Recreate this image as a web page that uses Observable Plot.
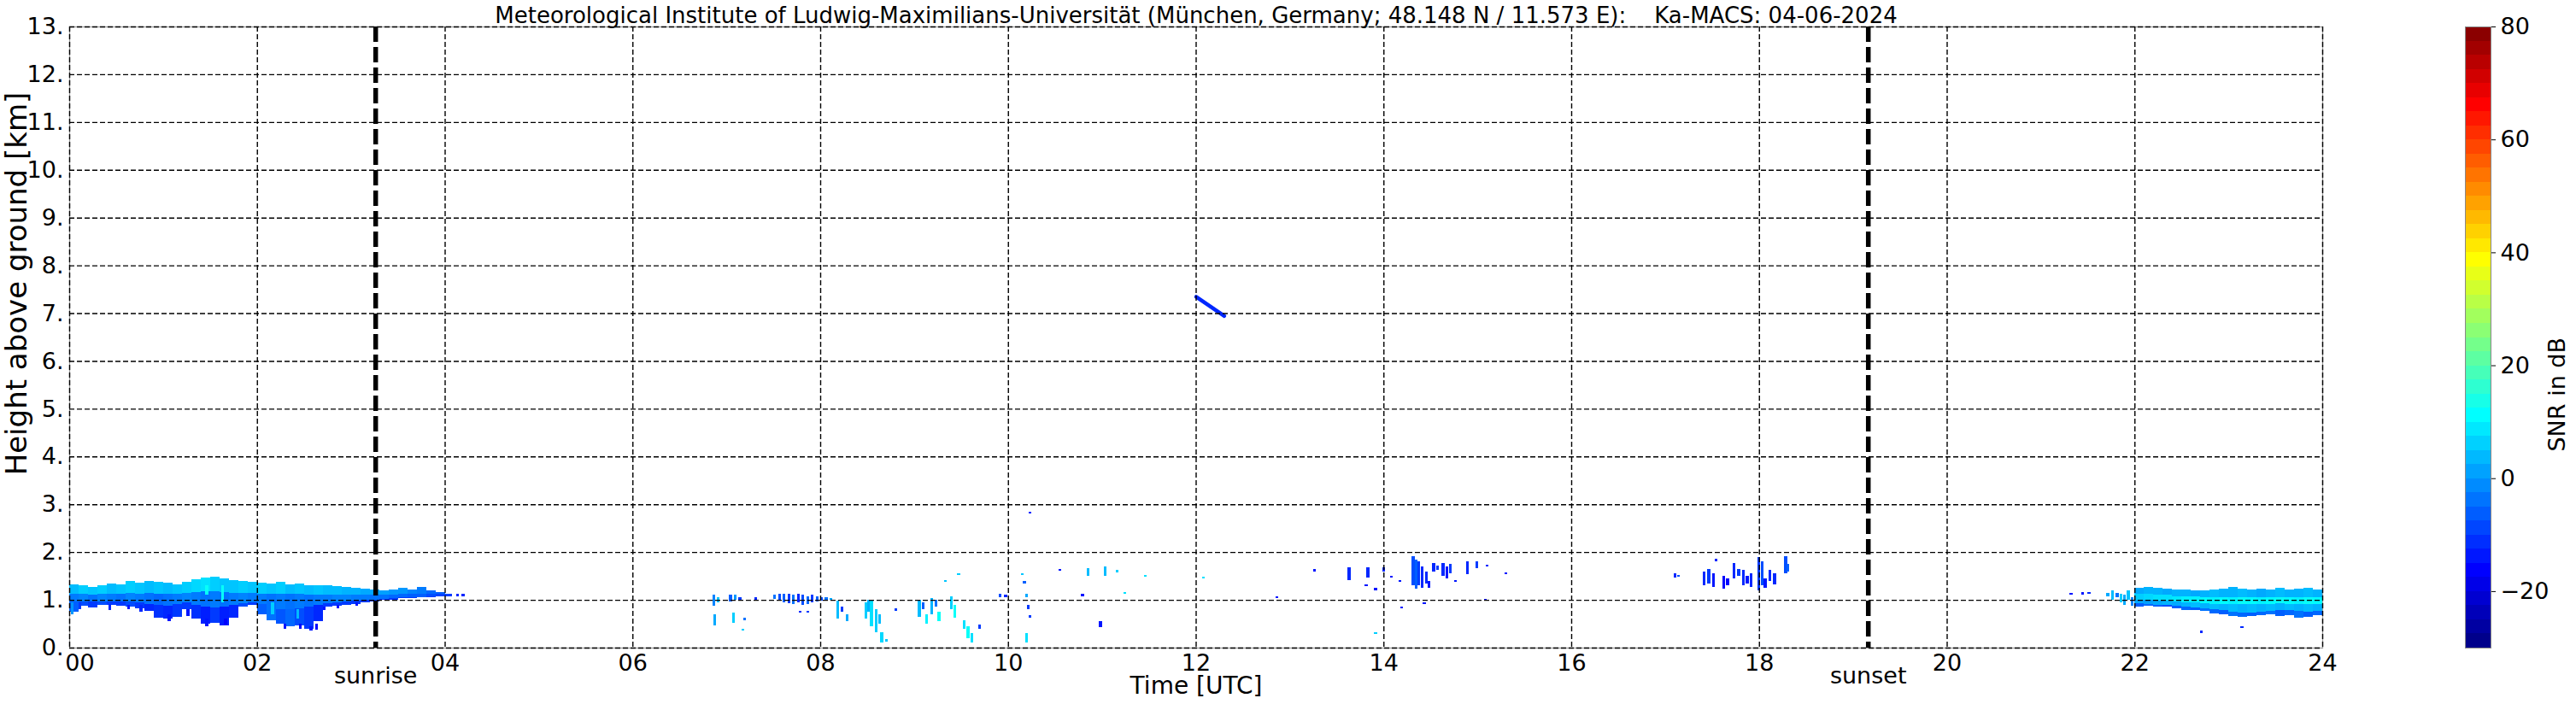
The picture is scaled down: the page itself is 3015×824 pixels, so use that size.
<!DOCTYPE html>
<html><head><meta charset="utf-8">
<script src="https://cdn.jsdelivr.net/npm/d3@7"></script>
<script src="https://cdn.jsdelivr.net/npm/@observablehq/plot@0.6"></script>
<style>
html,body{margin:0;padding:0;background:#fff;}
#wrap{position:relative;width:3015px;height:824px;overflow:hidden;background:#fff;}
#wrap svg{position:absolute;top:0;}
</style></head><body><div id="wrap"></div>
<script>
// ---------------- data ----------------
const TITLE = "Meteorological Institute of Ludwig-Maximilians-Universität (München, Germany; 48.148 N / 11.573 E):    Ka-MACS: 04-06-2024";
const X_LABEL = "Time [UTC]";
const Y_LABEL = "Height above ground [km]";
const CB_LABEL = "SNR in dB";
const X_TICKS = [0,2,4,6,8,10,12,14,16,18,20,22,24];
const X_TICK_LABELS = ["00","02","04","06","08","10","12","14","16","18","20","22","24"];
const Y_TICKS = [0,1,2,3,4,5,6,7,8,9,10,11,12,13];
const SUN_TIMES = [3.26, 19.16];
const SUN_LABELS = ["sunrise", "sunset"];
const SNR_DOMAIN = [-30, 80];
const SNR_TICKS = [-20, 0, 20, 40, 60, 80];
const SNR_STEP = 2.5;

// Cloud layer 00:00-04:10 (columns of 0.1 h)
const cloudA_t      = [0.0,0.1,0.2,0.3,0.4,0.5,0.6,0.7,0.8,0.9,1.0,1.1,1.2,1.3,1.4,1.5,1.6,1.7,1.8,1.9,2.0,2.1,2.2,2.3,2.4,2.5,2.6,2.7,2.8,2.9,3.0,3.1,3.2,3.3,3.4,3.5,3.6,3.7,3.8,3.9,4.0];
const cloudA_top    = [1.33,1.30,1.27,1.31,1.34,1.33,1.39,1.36,1.39,1.37,1.36,1.33,1.38,1.43,1.46,1.48,1.44,1.42,1.40,1.38,1.36,1.35,1.37,1.33,1.35,1.30,1.31,1.30,1.28,1.27,1.25,1.24,1.22,1.20,1.22,1.25,1.22,1.27,1.20,1.17,1.13];
const cloudA_mid    = [1.12,1.12,1.10,1.12,1.13,1.12,1.14,1.13,1.14,1.12,1.12,1.12,1.14,1.16,1.18,1.18,1.16,1.15,1.15,1.14,1.13,1.12,1.13,1.12,1.12,1.10,1.10,1.10,1.10,1.10,1.10,1.10,1.10,1.10,1.10,1.12,1.12,1.13,1.12,1.12,1.10];
const cloudA_base   = [0.97,0.97,0.96,0.97,0.97,0.96,0.97,0.94,0.92,0.90,0.88,0.92,0.94,0.90,0.86,0.84,0.86,0.90,0.93,0.95,0.92,0.84,0.80,0.80,0.82,0.85,0.90,0.93,0.95,0.96,0.98,1.00,1.01,1.02,1.03,1.05,1.05,1.06,1.07,1.08,1.08];
const cloudA_streak = [0.75,0.88,0.84,0.90,0.90,0.88,0.86,0.82,0.76,0.62,0.60,0.65,0.80,0.60,0.50,0.52,0.47,0.62,0.85,0.90,0.70,0.58,0.50,0.44,0.47,0.40,0.55,0.85,0.88,0.90,0.92,0.95,0.97,1.00,1.01,1.03,1.04,1.05,1.06,1.07,1.08];
const cloudA_snrTop    = [4,6,5,6,4,5,6,5,4,5,4,5,6,7,8,6,5,5,6,5,6,5,6,4,5,4,5,4,4,3,3,2,2,1,0,0,-2,-3,-5,-6,-8];
const cloudA_snrMid    = [-3,-2,-4,-2,-3,-4,-2,-3,-4,-5,-4,-3,-2,-3,-4,-3,-4,-3,-2,-3,-3,-4,-3,-4,-3,-4,-3,-3,-2,-2,-3,-3,-4,-4,-5,-5,-6,-6,-8,-9,-10];
const cloudA_snrStreak = [-6,-8,-10,-8,-10,-10,-8,-10,-12,-11,-12,-10,-10,-11,-13,-10,-13,-12,-8,-10,-6,-4,-7,-5,-8,-10,-12,-10,-10,-10,-10,-10,-10,-10,-10,-10,-10,-10,-10,-10,-10];

// Cloud layer 22:00-24:00 (columns of 0.1 h)
const cloudB_t       = [22.0,22.1,22.2,22.3,22.4,22.5,22.6,22.7,22.8,22.9,23.0,23.1,23.2,23.3,23.4,23.5,23.6,23.7,23.8,23.9];
const cloudB_top     = [1.25,1.27,1.26,1.24,1.22,1.21,1.20,1.19,1.21,1.23,1.27,1.23,1.22,1.24,1.21,1.26,1.22,1.23,1.25,1.22];
const cloudB_coreTop = [1.12,1.12,1.10,1.10,1.08,1.08,1.07,1.06,1.06,1.06,1.06,1.06,1.05,1.06,1.05,1.06,1.06,1.05,1.06,1.06];
const cloudB_coreBot = [1.00,1.00,0.98,0.98,0.96,0.95,0.94,0.93,0.92,0.92,0.92,0.91,0.91,0.92,0.92,0.93,0.92,0.92,0.91,0.92];
const cloudB_base    = [0.93,0.92,0.90,0.90,0.88,0.86,0.84,0.82,0.80,0.78,0.75,0.74,0.74,0.75,0.77,0.78,0.78,0.76,0.75,0.77];
const cloudB_bottom  = [0.86,0.88,0.86,0.85,0.82,0.78,0.78,0.76,0.72,0.70,0.66,0.64,0.66,0.68,0.70,0.66,0.68,0.62,0.64,0.68];
const cloudB_snrTop    = [2,3,3,2,3,3,2,3,4,3,3,4,3,2,3,4,3,3,4,3];
const cloudB_snrCore   = [6,7,8,8,9,10,10,11,10,11,10,12,11,10,11,12,11,10,12,11];
const cloudB_snrBase   = [2,1,2,3,2,3,4,3,4,3,4,3,4,3,4,3,4,3,4,3];
const cloudB_snrBottom = [-6,-5,-6,-8,-6,-5,-6,-4,-5,-6,-4,-5,-6,-5,-4,-6,-5,-4,-6,-5];

// Isolated echoes: [time h, bottom km, top km, SNR dB]
const strandsA = [[0.02,0.70,0.95,0],[0.10,0.80,0.95,-10],[0.42,0.78,0.92,-12],[0.62,0.80,0.90,-14],[0.75,0.75,0.90,-12],[1.05,0.55,0.70,-14],[1.25,0.66,0.80,-14],[1.45,0.45,0.60,-14],[1.65,0.48,0.60,-16],[1.62,0.95,1.30,12],[2.28,0.40,0.50,-14],[2.45,0.40,0.50,-16],[2.56,0.36,0.45,-14],[2.62,0.38,0.50,-16],[2.70,0.78,0.85,-14],[2.85,0.82,0.90,-14],[3.05,0.88,0.95,-14],[4.05,1.08,1.12,-10],[4.12,1.08,1.12,-12],[4.18,1.08,1.12,-12],[1.45,1.10,1.30,12],[2.15,0.7,0.95,6],[2.42,0.6,0.8,4]];
const morningEchoes = [[6.85,0.87,1.10,-2],[6.90,0.95,1.05,5],[6.86,0.46,0.70,2],[7.03,0.97,1.10,-6],[7.08,1.00,1.10,0],[7.13,1.00,1.06,-10],[7.06,0.52,0.73,6],[7.16,0.36,0.40,6],[7.18,0.57,0.63,-4],[7.30,1.00,1.05,-12],
 [7.50,1.02,1.10,-4],[7.55,0.98,1.12,-8],[7.60,0.95,1.13,-6],[7.65,0.93,1.12,-10],[7.70,0.92,1.10,-4],[7.75,0.94,1.12,-12],[7.80,0.90,1.10,-8],[7.85,0.92,1.08,-5],[7.90,0.95,1.10,-10],[7.95,0.97,1.08,-6],[8.00,0.98,1.05,-8],[8.05,1.00,1.05,-4],[8.10,1.00,1.04,2],
 [7.77,0.73,0.77,-12],[7.85,0.73,0.77,-10],[8.17,0.60,0.98,4],[8.22,0.75,0.85,-10],[8.27,0.56,0.70,2],
 [8.47,0.60,0.95,6],[8.50,0.75,1.00,3],[8.53,0.44,0.98,8],[8.58,0.33,0.80,6],[8.62,0.50,0.70,4],[8.64,0.10,0.33,7],[8.69,0.13,0.17,5],[8.79,0.77,0.82,-10],
 [9.04,0.65,1.00,4],[9.08,0.80,0.95,-6],[9.12,0.50,0.70,10],[9.17,0.70,1.03,3],[9.22,0.85,1.00,-4],[9.25,0.55,0.75,12],
 [9.32,1.37,1.41,5],[9.38,0.80,1.08,6],[9.42,0.62,0.90,12],[9.46,1.52,1.56,6],[9.52,0.40,0.57,8],[9.56,0.20,0.45,12],[9.60,0.10,0.30,8],[9.68,0.40,0.49,-10],
 [9.90,1.05,1.12,-8],[9.96,1.06,1.10,-12],[10.14,1.52,1.56,5],[10.16,1.35,1.40,-6],[10.18,1.05,1.12,2],[10.20,0.80,0.90,-10],[10.22,0.62,0.68,-10],[10.18,0.10,0.30,8],[10.22,2.80,2.85,-12],
 [10.54,1.61,1.65,-14],[10.78,1.08,1.12,-14],[10.84,1.50,1.67,4],[10.97,0.43,0.55,-14],[11.02,1.50,1.70,4]];
const afternoonEchoes = [[11.15,1.58,1.62,6],[11.23,1.13,1.17,8],[11.45,1.48,1.52,8],[12.07,1.45,1.49,8],[12.85,1.04,1.08,-14],[13.25,1.60,1.64,-14],
 [13.62,1.42,1.68,-12],[13.82,1.47,1.68,-12],[13.80,1.29,1.33,-14],[13.90,1.20,1.26,-14],[13.90,0.29,0.33,6],[13.99,1.60,1.68,-12],[14.07,1.47,1.51,-14],[14.16,1.38,1.42,-14],[14.18,0.82,0.86,-14],[14.42,0.91,0.95,-14],
 [14.30,1.30,1.92,-8],[14.33,1.24,1.85,-6],[14.36,1.30,1.80,-10],[14.40,1.26,1.70,-12],[14.44,1.35,1.60,-12],[14.47,1.25,1.40,-14],
 [14.52,1.60,1.77,-12],[14.56,1.62,1.72,-10],[14.62,1.50,1.77,-12],[14.66,1.45,1.70,-14],[14.70,1.55,1.75,-10],[14.75,1.37,1.41,-14],[14.88,1.53,1.80,-12],[14.98,1.67,1.81,-10],[15.07,0.98,1.02,-14],[15.09,1.69,1.73,-12],[15.29,1.54,1.58,-14],
 [17.09,1.47,1.56,-12],[17.13,1.48,1.52,-8],[17.40,1.30,1.60,-12],[17.45,1.35,1.65,-10],[17.50,1.27,1.55,-14],[17.53,1.80,1.86,-12],[17.61,1.24,1.50,-16],[17.65,1.30,1.45,-16],[17.72,1.45,1.77,-12],[17.77,1.50,1.65,-10],[17.82,1.30,1.62,-12],[17.86,1.35,1.50,-14],[17.90,1.27,1.55,-12],[17.98,1.20,1.90,-10],[18.02,1.30,1.80,-8],[18.05,1.25,1.45,-14],[18.10,1.40,1.62,-12],[18.15,1.33,1.55,-12],[18.27,1.56,1.92,-8],[18.29,1.60,1.75,-6]];
const nightEchoes = [[21.31,1.10,1.14,-14],[21.43,1.11,1.16,-14],[21.50,1.13,1.17,-12],[21.70,1.08,1.14,2],[21.75,1.00,1.20,4],[21.80,1.05,1.15,-4],[21.84,0.95,1.12,6],[21.88,0.90,1.10,2],[21.92,1.00,1.20,5],[21.96,0.88,1.05,-2],[22.70,0.31,0.35,-12],[23.13,0.41,0.45,-12]];
// High echo trail near 12 UTC
const trail_t   = [12.00, 12.30];
const trail_h   = [7.35, 6.95];
const trail_snr = [-12, -12];

// ---------------- build ----------------
const jet = (t) => {
  const c = v => Math.max(0, Math.min(1, v));
  const r = c(1.5 - Math.abs(4*t - 3)), g = c(1.5 - Math.abs(4*t - 2)), b = c(1.5 - Math.abs(4*t - 1));
  return d3.rgb(r*255, g*255, b*255).formatHex();
};
const colorScale = {type: "linear", domain: SNR_DOMAIN, interpolate: (t) => jet(t), clamp: true};

const COL = 0.1, ECHO = 0.03;
const cells = [];
cloudA_t.forEach((t, i) => {
  const w = i === cloudA_t.length - 1 ? 0.05 : COL;
  cells.push({x1: t, x2: t + w, y1: cloudA_mid[i], y2: cloudA_top[i], snr: cloudA_snrTop[i]});
  cells.push({x1: t, x2: t + w, y1: cloudA_base[i], y2: cloudA_mid[i], snr: cloudA_snrMid[i]});
  if (cloudA_streak[i] < cloudA_base[i]) cells.push({x1: t, x2: t + w, y1: cloudA_streak[i], y2: cloudA_base[i], snr: cloudA_snrStreak[i]});
});
cloudB_t.forEach((t, i) => {
  cells.push({x1: t, x2: t + COL, y1: cloudB_coreTop[i], y2: cloudB_top[i], snr: cloudB_snrTop[i]});
  cells.push({x1: t, x2: t + COL, y1: cloudB_coreBot[i], y2: cloudB_coreTop[i], snr: cloudB_snrCore[i]});
  cells.push({x1: t, x2: t + COL, y1: cloudB_base[i], y2: cloudB_coreBot[i], snr: cloudB_snrBase[i]});
  cells.push({x1: t, x2: t + COL, y1: cloudB_bottom[i], y2: cloudB_base[i], snr: cloudB_snrBottom[i]});
});
[strandsA, morningEchoes, afternoonEchoes, nightEchoes].forEach(list => list.forEach(([t, y1, y2, snr]) => cells.push({x1: t, x2: t + ECHO, y1, y2, snr})));
const trail = trail_t.map((t, i) => ({t, h: trail_h[i], snr: trail_snr[i]}));
const sun = SUN_TIMES.map((t, i) => ({t, label: SUN_LABELS[i]}));
const xLab = new Map(X_TICKS.map((v, i) => [v, X_TICK_LABELS[i]]));

const FONT = {fontFamily: "'DejaVu Sans', sans-serif", fontSize: "26px", color: "black", background: "white", overflow: "visible"};
const gridStyle = {stroke: "black", strokeOpacity: 1, strokeWidth: 1.4, strokeDasharray: "6,3"};

const main = Plot.plot({
  width: 2760, height: 824,
  marginLeft: 81, marginRight: 42, marginTop: 31, marginBottom: 66,
  style: FONT,
  x: {domain: [0, 24]},
  y: {domain: [0, 13]},
  color: colorScale,
  marks: [
    Plot.frame({stroke: "#999", strokeWidth: 1.2}),
    Plot.rect(cells, {x1: "x1", x2: "x2", y1: "y1", y2: "y2", fill: "snr", shapeRendering: "crispEdges"}),
    Plot.line(trail, {x: "t", y: "h", stroke: "snr", strokeWidth: 4.5, z: null}),
    Plot.gridX(X_TICKS, gridStyle),
    Plot.gridY(Y_TICKS, gridStyle),
    Plot.ruleX(sun, {x: "t", stroke: "black", strokeWidth: 5.5, strokeDasharray: "18,6"}),
    Plot.axisX(X_TICKS.slice(0, 1), {tickSize: 0, tickPadding: 7, dx: 12, tickFormat: d => xLab.get(d), label: null, fontSize: 27}),
    Plot.axisX(X_TICKS.slice(1), {tickSize: 0, tickPadding: 7, tickFormat: d => xLab.get(d), label: null, fontSize: 27}),
    Plot.axisY(Y_TICKS, {tickSize: 0, tickPadding: 7, tickFormat: d => d + ".", label: null, fontSize: 27}),
    Plot.text(sun, {x: "t", text: "label", frameAnchor: "bottom", lineAnchor: "middle", dy: 33, fontSize: 27}),
    Plot.text([X_LABEL], {text: d => d, frameAnchor: "bottom", lineAnchor: "middle", dy: 45, fontSize: 28}),
    Plot.text([Y_LABEL], {text: d => d, frameAnchor: "left", textAnchor: "middle", rotate: -90, dx: -61, dy: -63, fontSize: 34}),
    Plot.text([TITLE], {text: d => d, frameAnchor: "top", lineAnchor: "middle", dy: -13})
  ]
});
main.style.left = "0px";
document.getElementById("wrap").appendChild(main);

// colorbar
const bands = d3.range(SNR_DOMAIN[0], SNR_DOMAIN[1], SNR_STEP).map(v => ({y1: v, y2: v + SNR_STEP, snr: v + SNR_STEP / 2}));
const cbar = Plot.plot({
  width: 135, height: 824,
  marginLeft: 5, marginRight: 100, marginTop: 31, marginBottom: 66,
  style: FONT,
  x: {domain: [0, 1], axis: null},
  y: {domain: SNR_DOMAIN},
  color: colorScale,
  marks: [
    Plot.rect(bands, {x1: 0, x2: 1, y1: "y1", y2: "y2", fill: "snr", shapeRendering: "crispEdges"}),
    Plot.frame({stroke: "#888", strokeWidth: 1}),
    Plot.axisY(SNR_TICKS, {anchor: "right", tickSize: 5, tickPadding: 6, tickFormat: d => d < 0 ? "\u2212" + Math.abs(d) : String(d), label: null, fontSize: 27}),
    Plot.text([CB_LABEL], {text: d => d, frameAnchor: "right", rotate: -90, dx: 78, fontSize: 27})
  ]
});
cbar.style.left = "2880px";
document.getElementById("wrap").appendChild(cbar);
</script></body></html>
